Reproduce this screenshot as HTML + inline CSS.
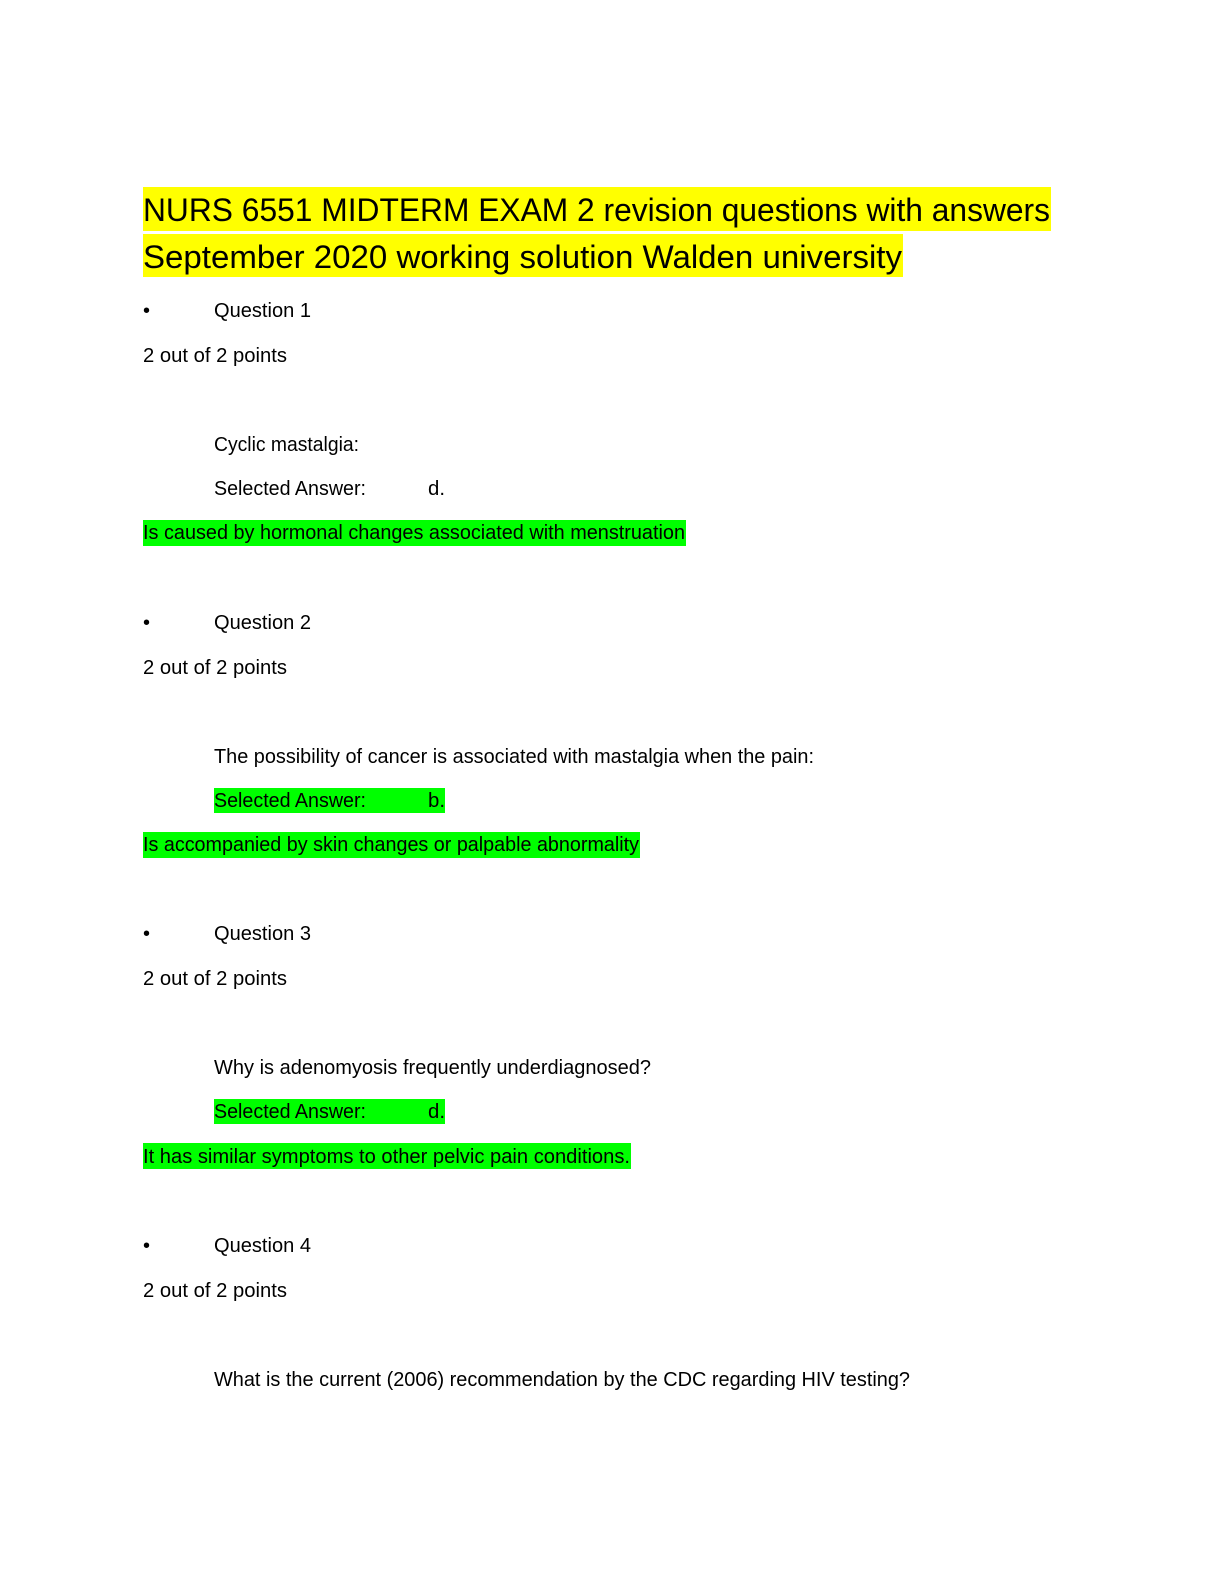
<!DOCTYPE html>
<html><head><meta charset="utf-8"><style>html,body{margin:0;padding:0;background:#fff}svg{display:block}</style></head>
<body>
<svg width="1224" height="1584" viewBox="0 0 1224 1584" xmlns="http://www.w3.org/2000/svg" font-family="Liberation Sans, sans-serif" fill="#000">
<rect x="143" y="187" width="908" height="44" fill="#ffff00"/>
<rect x="143" y="234" width="760" height="43" fill="#ffff00"/>
<text x="143" y="221" font-size="32" textLength="907" lengthAdjust="spacingAndGlyphs">NURS 6551 MIDTERM EXAM 2 revision questions with answers</text>
<text x="143" y="268" font-size="32" textLength="759" lengthAdjust="spacingAndGlyphs">September 2020 working solution Walden university</text>

<g font-size="20">
<text x="143" y="317">•</text>
<text x="214" y="317" textLength="97" lengthAdjust="spacingAndGlyphs">Question 1</text>
<text x="143" y="362" textLength="144" lengthAdjust="spacingAndGlyphs">2 out of 2 points</text>
<text x="214" y="451" textLength="145" lengthAdjust="spacingAndGlyphs">Cyclic mastalgia:</text>
<text x="214" y="495" textLength="152" lengthAdjust="spacingAndGlyphs">Selected Answer:</text>
<text x="428" y="495" textLength="17" lengthAdjust="spacingAndGlyphs">d.</text>
<rect x="143" y="520" width="543" height="26" fill="#00ff00"/>
<text x="143" y="539" textLength="542" lengthAdjust="spacingAndGlyphs">Is caused by hormonal changes associated with menstruation</text>

<text x="143" y="629">•</text>
<text x="214" y="629" textLength="97" lengthAdjust="spacingAndGlyphs">Question 2</text>
<text x="143" y="674" textLength="144" lengthAdjust="spacingAndGlyphs">2 out of 2 points</text>
<text x="214" y="763" textLength="600" lengthAdjust="spacingAndGlyphs">The possibility of cancer is associated with mastalgia when the pain:</text>
<rect x="214" y="788" width="231" height="25" fill="#00ff00"/>
<text x="214" y="807" textLength="152" lengthAdjust="spacingAndGlyphs">Selected Answer:</text>
<text x="428" y="807" textLength="17" lengthAdjust="spacingAndGlyphs">b.</text>
<rect x="143" y="832" width="497" height="26" fill="#00ff00"/>
<text x="143" y="851" textLength="496" lengthAdjust="spacingAndGlyphs">Is accompanied by skin changes or palpable abnormality</text>

<text x="143" y="940">•</text>
<text x="214" y="940" textLength="97" lengthAdjust="spacingAndGlyphs">Question 3</text>
<text x="143" y="985" textLength="144" lengthAdjust="spacingAndGlyphs">2 out of 2 points</text>
<text x="214" y="1074" textLength="437" lengthAdjust="spacingAndGlyphs">Why is adenomyosis frequently underdiagnosed?</text>
<rect x="214" y="1099" width="231" height="25" fill="#00ff00"/>
<text x="214" y="1118" textLength="152" lengthAdjust="spacingAndGlyphs">Selected Answer:</text>
<text x="428" y="1118" textLength="17" lengthAdjust="spacingAndGlyphs">d.</text>
<rect x="143" y="1143" width="488" height="26" fill="#00ff00"/>
<text x="143" y="1163" textLength="487" lengthAdjust="spacingAndGlyphs">It has similar symptoms to other pelvic pain conditions.</text>

<text x="143" y="1252">•</text>
<text x="214" y="1252" textLength="97" lengthAdjust="spacingAndGlyphs">Question 4</text>
<text x="143" y="1297" textLength="144" lengthAdjust="spacingAndGlyphs">2 out of 2 points</text>
<text x="214" y="1386" textLength="696" lengthAdjust="spacingAndGlyphs">What is the current (2006) recommendation by the CDC regarding HIV testing?</text>
</g>
</svg>
</body></html>
